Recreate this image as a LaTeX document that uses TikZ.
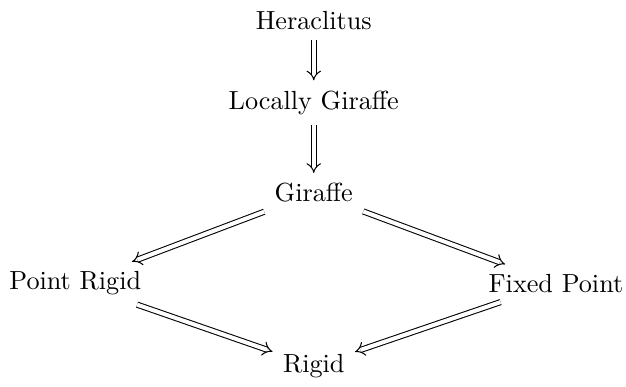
\documentclass[tikz,border=0pt]{standalone}
\usepackage{tikz}
\usetikzlibrary{arrows.meta, positioning}

\begin{document}
\begin{tikzpicture}[
            implies/.style={
                double,
                double equal sign distance,
                -{Implies},
                shorten >=0.5pt,
                shorten <=0.5pt
            }
        ]
        \useasboundingbox (0, 0) rectangle (8.4, 5.18);
        \def\mid{4.21}

        \node (heraclitus) at (\mid, 4.91) {Heraclitus};
        \node (locally) at (\mid, 3.80) {Locally Giraffe};
        \node (giraffe) at (\mid, 2.59) {Giraffe};
        \node (pointrigid) at (1.01, 1.38) {Point Rigid};
        \node (fixedpoint) at (7.46, 1.38) {Fixed Point};
        \node (rigid) at (\mid, 0.27) {Rigid};

        \draw[implies] (heraclitus) -- (locally);
        \draw[implies] (locally) -- (giraffe);
        \draw[implies] (giraffe) -- (pointrigid);
        \draw[implies] (giraffe) -- (fixedpoint);
        \draw[implies] (pointrigid) -- (rigid);
        \draw[implies] (fixedpoint) -- (rigid);
    \end{tikzpicture}
\end{document}
